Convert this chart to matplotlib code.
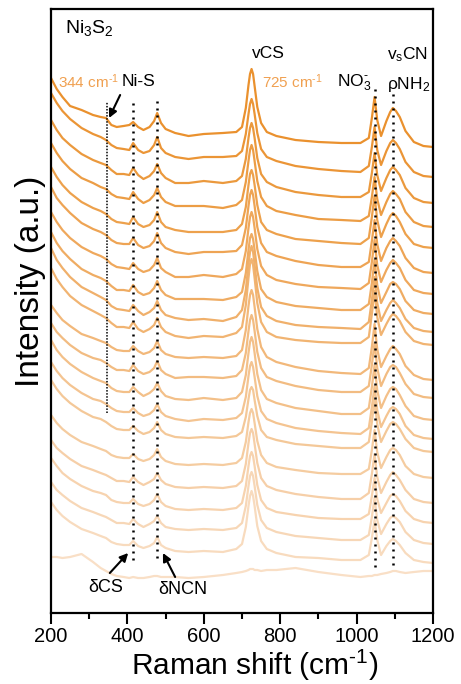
import numpy as np
import matplotlib
matplotlib.use("Agg")
import matplotlib.pyplot as plt
from matplotlib.colors import to_rgb

plt.rcParams['font.family'] = ['Liberation Sans', 'DejaVu Sans']
plt.rcParams['mathtext.fontset'] = 'custom'
plt.rcParams['mathtext.rm'] = 'Liberation Sans'
plt.rcParams['mathtext.it'] = 'Liberation Sans'
plt.rcParams['mathtext.default'] = 'regular'

# Raman shift sampling points (cm-1)
shift = [200, 215, 230, 250, 280, 310, 330, 344, 358, 372, 390,
         405, 415, 428, 442, 458, 470, 478, 488, 500, 525, 560, 600, 650,
         685, 700, 710, 717, 721, 725, 729, 733, 740, 750, 765, 790, 840,
         900, 960, 1010, 1032, 1040, 1047, 1054, 1064, 1078, 1088, 1095, 1103,
         1113, 1128, 1150, 1175, 1200]

# Spectra, top trace first; intensity above each trace's own baseline (a.u.)
spectra = [
    [57, 46, 38, 29, 25, 20, 18, 17, 10, 8, 9, 10, 13, 8, 5, 8, 14, 22, 12, 6, 2, -1, 1, 2, 3, 8, 27, 50, 61, 66, 61, 49, 28, 12, 3, -1, -5, -7, -8, -8, -3, 17, 38, 15, -1, 14, 23, 27, 24, 18, 4, -7, -11, -12],
    [65, 55, 47, 39, 30, 24, 21, 18, 13, 10, 9, 8, 15, 8, 5, 7, 13, 21, 10, 5, 1, -1, 1, 1, 2, 7, 24, 44, 54, 59, 54, 44, 25, 9, 1, -3, -8, -11, -13, -14, -8, 11, 31, 8, -7, 7, 15, 18, 15, 9, -4, -14, -18, -19],
    [63, 53, 45, 38, 29, 23, 20, 18, 13, 9, 9, 8, 15, 8, 4, 7, 12, 19, 10, 5, 0, 0, 2, 0, 2, 7, 24, 45, 55, 60, 55, 45, 25, 9, 1, -4, -9, -12, -14, -14, -9, 10, 30, 8, -8, 5, 13, 16, 13, 8, -5, -15, -19, -20],
    [64, 54, 46, 38, 29, 24, 20, 18, 13, 10, 9, 8, 15, 8, 4, 7, 12, 19, 10, 5, 1, 1, 1, -1, 2, 7, 25, 46, 57, 62, 57, 46, 26, 10, 1, -4, -8, -12, -13, -14, -9, 10, 30, 8, -8, 5, 13, 16, 13, 8, -5, -15, -19, -20],
    [65, 55, 47, 39, 30, 24, 21, 18, 13, 10, 9, 8, 15, 8, 5, 7, 12, 20, 10, 5, 2, 0, 0, 0, 2, 8, 25, 47, 58, 62, 57, 47, 27, 10, 2, -2, -7, -9, -11, -12, -6, 15, 36, 12, -5, 8, 16, 19, 16, 10, -2, -12, -15, -16],
    [66, 55, 48, 40, 30, 24, 21, 18, 13, 10, 9, 9, 15, 8, 5, 7, 12, 20, 10, 5, 1, -1, 1, 1, 2, 8, 25, 47, 58, 63, 58, 47, 26, 10, 1, -3, -8, -12, -14, -14, -9, 12, 33, 9, -8, 5, 12, 15, 12, 7, -5, -15, -19, -20],
    [65, 55, 47, 39, 30, 24, 21, 18, 13, 10, 9, 8, 14, 8, 5, 7, 12, 19, 9, 5, 0, 0, 2, 0, 3, 8, 26, 49, 60, 65, 60, 49, 28, 11, 2, -3, -7, -10, -11, -12, -6, 15, 37, 12, -5, 7, 14, 17, 14, 9, -3, -13, -16, -17],
    [68, 57, 49, 41, 31, 25, 22, 19, 14, 10, 10, 9, 15, 8, 5, 7, 12, 19, 10, 5, 1, 1, 1, 0, 3, 8, 27, 50, 62, 66, 61, 50, 29, 11, 3, -2, -6, -8, -10, -10, -4, 17, 40, 15, -3, 8, 16, 18, 16, 11, -1, -10, -13, -14],
    [72, 60, 52, 43, 33, 27, 23, 20, 14, 11, 10, 9, 15, 9, 5, 8, 12, 19, 10, 5, 2, 0, 1, -1, 3, 10, 30, 56, 68, 74, 68, 55, 32, 13, 4, -1, -5, -7, -8, -9, -2, 20, 43, 17, -1, 10, 17, 20, 17, 12, 1, -8, -11, -12],
    [69, 58, 50, 41, 32, 26, 22, 19, 14, 10, 10, 9, 15, 8, 5, 8, 12, 19, 10, 5, 1, -1, 1, 0, 4, 10, 32, 59, 73, 78, 72, 59, 34, 15, 5, 0, -3, -5, -6, -6, 0, 23, 46, 20, 2, 13, 20, 23, 21, 16, 5, -4, -7, -8],
    [53, 45, 38, 32, 24, 20, 17, 15, 11, 8, 7, 7, 12, 7, 4, 6, 10, 17, 8, 4, 1, 0, 1, 0, 2, 8, 28, 52, 63, 68, 63, 51, 29, 11, 1, -4, -9, -13, -15, -16, -10, 11, 34, 9, -9, 2, 9, 12, 9, 4, -8, -17, -21, -22],
    [55, 46, 40, 33, 25, 20, 18, 15, 11, 8, 8, 7, 13, 7, 4, 6, 10, 17, 8, 4, 0, 1, 1, 0, 2, 8, 25, 47, 58, 63, 58, 47, 26, 10, 1, -3, -8, -12, -14, -14, -8, 13, 35, 10, -8, 4, 11, 13, 11, 5, -6, -16, -19, -20],
    [60, 50, 43, 36, 28, 22, 19, 17, 12, 9, 8, 8, 13, 8, 4, 7, 11, 17, 9, 4, 1, 0, 2, 0, 2, 8, 25, 47, 58, 63, 58, 47, 26, 10, 1, -3, -8, -11, -14, -14, -8, 13, 35, 10, -8, 4, 11, 13, 11, 5, -6, -16, -19, -20],
    [58, 49, 42, 35, 27, 21, 19, 16, 12, 9, 8, 8, 12, 7, 4, 6, 10, 16, 8, 4, 1, -1, 1, 0, 2, 7, 23, 44, 54, 58, 53, 43, 24, 9, 1, -3, -8, -11, -13, -14, -8, 13, 34, 10, -7, 4, 11, 13, 11, 6, -6, -15, -18, -19],
    [58, 49, 42, 35, 27, 21, 19, 16, 12, 9, 8, 8, 12, 7, 4, 6, 10, 16, 8, 4, 1, 0, 1, 0, 2, 6, 21, 39, 48, 51, 48, 38, 22, 8, 1, -2, -6, -8, -10, -10, -4, 16, 38, 14, -4, 7, 14, 16, 14, 9, -1, -10, -13, -14],
    [50, 42, 36, 30, 23, 19, 16, 14, 10, 8, 7, 7, 11, 6, 4, 6, 10, 16, 8, 4, 1, 0, 1, 0, 2, 7, 23, 43, 52, 56, 52, 42, 24, 10, 2, -2, -5, -8, -9, -9, -4, 15, 35, 13, -3, 8, 15, 17, 15, 10, -1, -9, -12, -13],
    [48, 40, 35, 29, 22, 18, 15, 13, 10, 7, 7, 6, 11, 6, 3, 6, 9, 15, 8, 4, 1, 0, 1, 0, 2, 7, 24, 45, 55, 59, 55, 44, 25, 10, 2, -2, -6, -9, -11, -11, -5, 14, 34, 11, -5, 6, 13, 16, 13, 8, -2, -11, -14, -15],
    [52, 44, 37, 31, 24, 19, 17, 15, 10, 8, 7, 7, 11, 6, 4, 6, 10, 16, 8, 4, 1, 0, 1, 0, 2, 7, 24, 44, 54, 58, 54, 44, 25, 10, 2, -2, -5, -8, -9, -9, -4, 14, 32, 11, -3, 7, 14, 16, 14, 9, -1, -9, -12, -13],
    [48, 40, 35, 29, 22, 18, 15, 13, 10, 7, 7, 6, 11, 6, 3, 6, 9, 14, 7, 3, 1, 0, 1, 0, 2, 7, 24, 44, 54, 58, 54, 44, 25, 10, 2, -2, -6, -8, -10, -10, -5, 13, 32, 10, -4, 6, 12, 14, 12, 8, -2, -10, -13, -14],
    [50, 42, 36, 30, 23, 19, 16, 14, 10, 8, 7, 7, 11, 6, 4, 6, 9, 15, 7, 4, 1, 0, 1, 0, 3, 8, 25, 46, 56, 61, 56, 46, 26, 11, 3, -1, -5, -6, -8, -8, -3, 14, 32, 12, -3, 6, 11, 13, 11, 7, -1, -8, -10, -11],
    [18, 18, 17, 18, 21, 13, 7, 4, 1, -1, -2, -3, -2, -3, -3, -2, -1, -1, -2, -2, -2, -3, -2, 0, 2, 3, 4, 5, 6, 6, 6, 5, 5, 4, 5, 5, 7, 3, 0, -2, -1, -1, 0, 0, 1, 2, 3, 4, 4, 3, 2, 3, 4, 4],
]

# Vertical stacking offset of each trace (a.u.)
offsets = [478, 455, 430, 406, 381, 360, 336, 313, 293, 276, 255, 235, 213, 193,
           175, 148, 125, 103, 83, 61, 38]

# Band positions marked with dotted guides (cm-1) and their vertical extent
band_positions = [347, 415, 477, 1048, 1095]
band_extent = [(200, 511), (53, 513), (55, 513), (46, 526), (48, 521)]

dark = np.array(to_rgb('#EA912E'))
light = np.array(to_rgb('#F9DFC6'))
n = len(spectra)

fig = plt.figure(figsize=(4.61, 6.84), dpi=100)
ax = fig.add_axes([51/461, 1-613/684, 382/461, 604/684])

for i in range(n - 1, -1, -1):
    t = i / (n - 1)
    col = dark * (1 - t) + light * t
    y = np.asarray(spectra[i]) + offsets[i]
    ax.plot(shift, y, color=col, lw=1.6, solid_joinstyle='round',
            solid_capstyle='round', zorder=2 + (n - i) * 0.01)

for k, (xb, (y0, y1)) in enumerate(zip(band_positions, band_extent)):
    if k == 0:
        ax.plot([xb, xb], [y0, y1], color='k', lw=1.1, dashes=(1.0, 1.0), zorder=5)
    else:
        ax.plot([xb, xb], [y0, y1], color='k', lw=1.8, dashes=(0.8, 2.0), zorder=5)

ax.set_xlim(200, 1200)
ax.set_ylim(0, 604)
ax.set_yticks([])
ax.set_xticks([200, 400, 600, 800, 1000, 1200])
ax.set_xticks([300, 500, 700, 900, 1100], minor=True)
ax.tick_params(axis='x', which='major', direction='out', length=8, width=1.5,
               labelsize=14.5, pad=2, top=False)
ax.tick_params(axis='x', which='minor', direction='out', length=4, width=1.5, top=False)
for s in ax.spines.values():
    s.set_linewidth(1.6)

orange = '#F0A050'
sup = '$^{\u20101}$'
ax.text(236, 585, 'Ni$_3$S$_2$', fontsize=14, va='center', ha='left')
ax.text(218, 531, '344 cm' + sup, fontsize=11, color=orange, va='center', ha='left')
ax.text(386, 531, 'Ni-S', fontsize=12.5, va='center', ha='left')
ax.text(725, 560, 'vCS', fontsize=12.5, va='center', ha='left')
ax.text(752, 531, '725 cm' + sup, fontsize=11, color=orange, va='center', ha='left')
ax.text(949, 530, 'NO$_3^{\u2010}$', fontsize=12.5, va='center', ha='left')
ax.text(1080, 558, 'v$_s$CN', fontsize=12.5, va='center', ha='left')
ax.text(1080, 528, 'ρNH$_2$', fontsize=12.5, va='center', ha='left')
ax.text(297, 25, 'δCS', fontsize=13, va='center', ha='left')
ax.text(480, 23, 'δNCN', fontsize=13, va='center', ha='left')

arrow = dict(arrowstyle='-|>', color='k', lw=1.5, mutation_scale=12, shrinkA=0, shrinkB=0)
ax.annotate('', xy=(352, 495), xytext=(381, 518), arrowprops=arrow)
ax.annotate('', xy=(402, 60), xytext=(354, 40), arrowprops=arrow)
ax.annotate('', xy=(493, 60), xytext=(525, 36), arrowprops=arrow)

fig.text(30/461, 1-281/684, 'Intensity (a.u.)', rotation=90, fontsize=24,
         ha='center', va='center')
fig.text(255/461, 1-675/684, 'Raman shift (cm' + sup + ')', fontsize=21.5,
         ha='center', va='baseline')

fig.savefig('out.png', dpi=100)
